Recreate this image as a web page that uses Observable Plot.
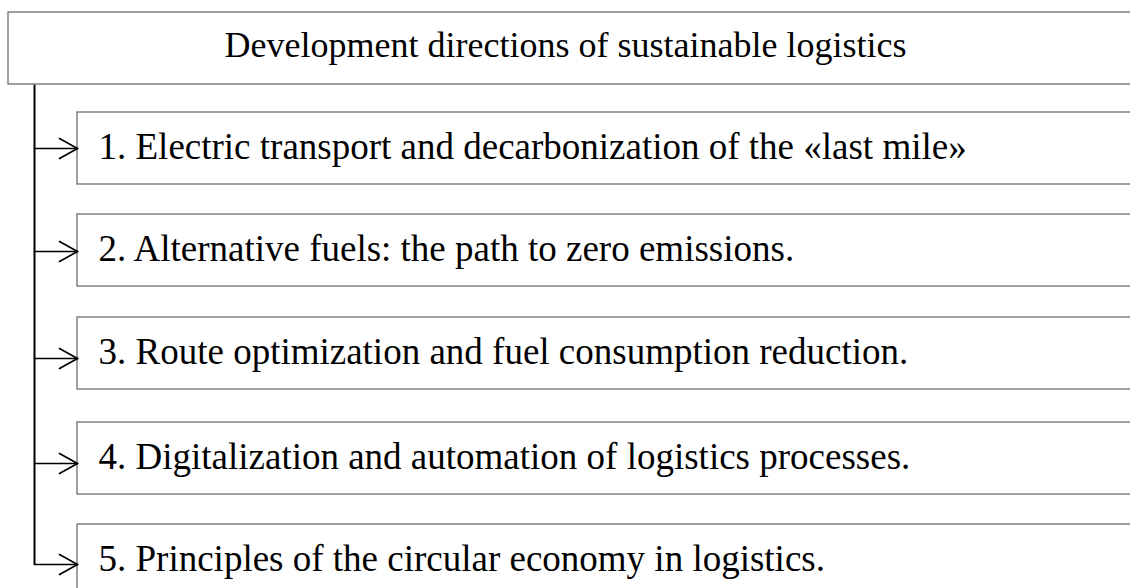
<!DOCTYPE html>
<html>
<head>
<meta charset="utf-8">
<script src="https://cdn.jsdelivr.net/npm/d3@7"></script>
<script src="https://cdn.jsdelivr.net/npm/@observablehq/plot@0.6"></script>
<style>
  html, body { margin: 0; padding: 0; background: #fff; overflow: hidden; }
  #chart { width: 1130px; height: 588px; overflow: hidden; }
</style>
</head>
<body>
<div id="chart"></div>
<script>
// ---- data ----
const title = "Development directions of sustainable logistics";
const items = [
  "1. Electric transport and decarbonization of the «last mile»",
  "2. Alternative fuels: the path to zero emissions.",
  "3. Route optimization and fuel consumption reduction.",
  "4. Digitalization and automation of logistics processes.",
  "5. Principles of the circular economy in logistics."
];

// ---- layout (diagram geometry, in the 1130x588 coordinate space) ----
const W = 1130, H = 588;
const header = {x1: 8, x2: 1140, y1: 12, y2: 84};
const boxTops = [112, 214, 317, 422, 524];
const boxH = 72;
const boxX1 = 77, boxX2 = 1140;
const arrowYs = [148, 251, 358, 463, 564];
const trunkX = 34;
const wingDx = 18, wingDy = 10;

const boxes = items.map((label, i) => ({
  label,
  x1: boxX1, x2: boxX2,
  y1: boxTops[i], y2: Math.min(boxTops[i] + boxH, i === items.length - 1 ? 620 : 1e9),
  yc: boxTops[i] + boxH / 2,
  ya: arrowYs[i]
}));
boxes[boxes.length - 1].y2 = 620; // last box runs past the bottom edge

// arrow segments: shaft + two wings
const segs = boxes.flatMap(b => [
  {x1: trunkX, y1: b.ya, x2: boxX1, y2: b.ya},
  {x1: boxX1 - wingDx, y1: b.ya - wingDy, x2: boxX1, y2: b.ya},
  {x1: boxX1 - wingDx, y1: b.ya + wingDy, x2: boxX1, y2: b.ya}
]);

const font = "'Liberation Serif', 'Times New Roman', serif";

const chart = Plot.plot({
  width: W,
  height: H,
  margin: 0,
  x: {domain: [0, W], range: [0, W], axis: null},
  y: {domain: [0, H], range: [0, H], axis: null},
  style: {fontFamily: font, background: "#fff"},
  marks: [
    // trunk line
    Plot.link([{x1: trunkX, y1: header.y2, x2: trunkX, y2: arrowYs[arrowYs.length - 1]}], {
      x1: "x1", y1: "y1", x2: "x2", y2: "y2", stroke: "#000", strokeWidth: 2
    }),
    // header box
    Plot.rect([header], {x1: "x1", x2: "x2", y1: "y1", y2: "y2", fill: "#fff", stroke: "#6e6e6e", strokeWidth: 1.3}),
    Plot.text([title], {
      x: W / 2, y: (header.y1 + header.y2) / 2 - 3.5,
      text: d => d, fontSize: 36, fill: "#000", textAnchor: "middle", lineAnchor: "middle"
    }),
    // item boxes
    Plot.rect(boxes, {x1: "x1", x2: "x2", y1: "y1", y2: "y2", fill: "#fff", stroke: "#6e6e6e", strokeWidth: 1.3}),
    Plot.text(boxes, {
      x: 98, y: d => d.yc - 1.5, text: "label",
      fontSize: 37, fill: "#000", textAnchor: "start", lineAnchor: "middle"
    }),
    // arrows
    Plot.link(segs, {
      x1: "x1", y1: "y1", x2: "x2", y2: "y2",
      stroke: "#000", strokeWidth: 1.7, strokeLinecap: "round"
    })
  ]
});
document.getElementById("chart").appendChild(chart);
</script>
</body>
</html>
